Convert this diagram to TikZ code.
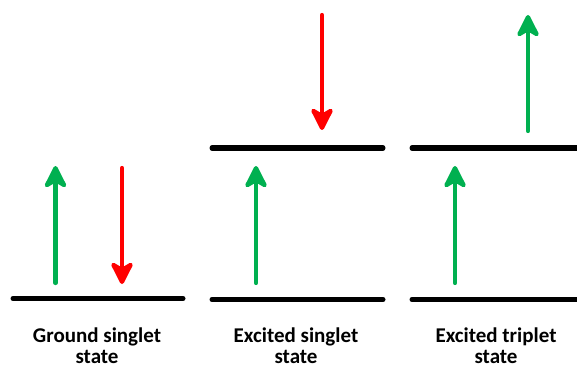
\documentclass[tikz,border=0pt]{standalone}
\usepackage{fontspec}
\setmainfont{Carlito}
\usetikzlibrary{arrows.meta}
\definecolor{spingreen}{HTML}{00B050}
\definecolor{spinred}{HTML}{FF0000}
\tikzset{
  level/.style={line width=5pt, line cap=round, black},
  spin/.style={line width=4.2pt, line cap=round, -{Stealth[length=27pt, width=27pt, inset=8pt, round=false]}},
  upspin/.style={spin, spingreen},
  downspin/.style={spin, spinred},
  statelabel/.style={font=\bfseries\fontsize{21}{21.5}\selectfont, align=center, inner sep=0pt, anchor=base}
}
\begin{document}
\begin{tikzpicture}[x=1pt,y=-1pt]
\useasboundingbox (0,0) rectangle (577,366);
\clip (0,0) rectangle (577,366);
% levels
\coordinate (g1a) at (13,298.5); \coordinate (g1b) at (183,298.5);
\coordinate (s0a) at (212,299.5); \coordinate (s0b) at (383,299.5);
\coordinate (s1a) at (212,148); \coordinate (s1b) at (383,148);
\coordinate (t0a) at (412,299.5); \coordinate (t0b) at (590,299.5);
\coordinate (t1a) at (412,148); \coordinate (t1b) at (590,148);
\draw[level] (g1a) -- (g1b);
\draw[level] (s0a) -- (s0b);
\draw[level] (s1a) -- (s1b);
\draw[level] (t0a) -- (t0b);
\draw[level] (t1a) -- (t1b);
% spins
\coordinate (gu0) at (55.5,283); \coordinate (gu1) at (55.5,166);
\coordinate (gd0) at (122,168); \coordinate (gd1) at (122,284);
\coordinate (su0) at (256,283); \coordinate (su1) at (256,166);
\coordinate (sd0) at (322,15); \coordinate (sd1) at (322,130);
\coordinate (tu0) at (455,283); \coordinate (tu1) at (455,166);
\coordinate (tv0) at (528,131); \coordinate (tv1) at (528,15);
\draw[upspin] (gu0) -- (gu1);
\draw[downspin] (gd0) -- (gd1);
\draw[upspin] (su0) -- (su1);
\draw[downspin] (sd0) -- (sd1);
\draw[upspin] (tu0) -- (tu1);
\draw[upspin] (tv0) -- (tv1);
% labels
\node[statelabel] (lg) at (97,363.5) {Ground singlet\\state};
\node[statelabel] (ls) at (296,363.5) {Excited singlet\\state};
\node[statelabel] (lt) at (496,363.5) {Excited triplet\\state};
\end{tikzpicture}
\end{document}
